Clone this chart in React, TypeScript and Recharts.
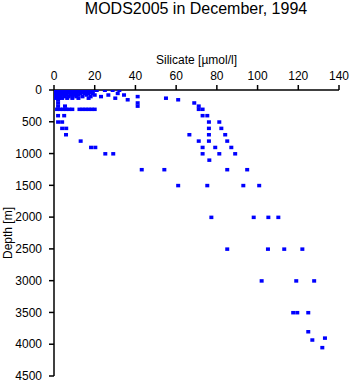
import React from "react";
import { ScatterChart, Scatter, XAxis, YAxis, Label } from "recharts";

const title = "MODS2005 in December, 1994";
const xLabel = "Silicate [µmol/l]";
const yLabel = "Depth [m]";

const xTicks = [0, 20, 40, 60, 80, 100, 120, 140];
const yTicks = [0, 500, 1000, 1500, 2000, 2500, 3000, 3500, 4000, 4500];

// depth levels [m]
const depthLevels = [
  0, 10, 20, 30, 50, 75, 100, 125, 150, 200, 250, 300, 400, 500, 600, 700, 800,
  900, 1000, 1100, 1250, 1500, 2000, 2500, 3000, 3500, 3800, 3900, 3930, 4050,
];

// silicate values observed at each depth level [µmol/l]
const silicateAtLevel: number[][] = [
  [0.5, 1, 1.5, 2, 2.5, 3, 3.5, 4, 4.5, 5, 5.5, 6, 7, 8, 9, 10, 11, 12, 13, 14, 15, 16, 17, 18, 19, 21, 25, 28.8, 32.1],
  [0.5, 1.5, 2.5, 3.5, 4.5, 5.5, 6.5, 7.5, 8.5, 9.5, 10.5, 11.5, 12.5, 14, 16, 18],
  [1, 2, 3, 4, 5, 6, 7, 8, 9, 10, 11, 12, 13, 15, 17, 19],
  [0.5, 2, 3, 4.5, 6, 7, 8.5, 10, 11, 13, 14, 16, 18],
  [1, 2, 3, 5, 6, 8, 9, 11, 13, 15, 17, 19, 31.3],
  [1, 2.5, 4, 6, 8, 10, 12, 16, 20, 26.7, 34.4],
  [0.5, 1.5, 3, 5, 7, 9, 11, 14, 18, 23.1, 41.1],
  [1, 2.5, 4, 6.5, 9, 12, 17, 30.1, 55],
  [2, 36.2, 61],
  [2, 41.1, 68.9],
  [2, 5.4, 41.1, 71.1],
  [1.5, 3, 4.5, 6, 7.5, 9, 12.5, 14, 15.5, 17, 18.5, 20, 71.1, 73],
  [2, 5, 73, 75.3],
  [2, 4, 76.1, 81.2],
  [4, 6, 76.1, 82.2],
  [5.9, 66.5, 76.1, 84.1],
  [13.1, 71.1, 76.1, 85.1],
  [18.2, 20.3, 73, 79.2, 87.1],
  [25.2, 29.1, 73, 81.2, 89],
  [76.3],
  [43.1, 54.2, 85.1, 94.9],
  [61, 75.3, 93, 100.8],
  [77.3, 98.1, 105.3, 110.2],
  [85.1, 105.1, 113.1, 122],
  [102, 119, 127.8],
  [117.5, 119.5, 124.9],
  [124.9],
  [133.1],
  [126.9],
  [131.8],
];

const data = depthLevels.flatMap((d, i) =>
  silicateAtLevel[i].map((s) => ({ silicate: s, depth: d }))
);

const FONT = "'Liberation Sans', Arial, sans-serif";

const Marker = (props: any) => {
  const { cx, cy } = props;
  if (cx == null || cy == null) return null;
  return <rect x={cx - 2} y={cy - 1.5} width={4} height={3.5} fill="#0000ff" />;
};

export default function App() {
  return (
    <div style={{ position: "absolute", left: 0, top: 0, width: 351, height: 384, background: "#fff" }}>
      <div
        style={{
          position: "absolute",
          left: 0,
          width: 392,
          top: 0,
          textAlign: "center",
          fontFamily: FONT,
          fontSize: 16,
          lineHeight: "18px",
          color: "#000",
        }}
      >
        {title}
      </div>
      <ScatterChart
        width={351}
        height={384}
        margin={{ top: 50, right: 12, bottom: 8, left: 0 }}
      >
        <XAxis
          type="number"
          dataKey="silicate"
          orientation="top"
          domain={[0, 140]}
          ticks={xTicks}
          height={40}
          tickSize={5}
          tickMargin={5}
          interval={0}
          stroke="#000"
          strokeWidth={1.5}
          tick={{ fill: "#000", fontSize: 12, fontFamily: FONT }}
          allowDataOverflow
        >
          <Label
            value={xLabel}
            position="insideTop"
            offset={5}
            style={{ fill: "#000", fontSize: 12, fontFamily: FONT }}
          />
        </XAxis>
        <YAxis
          type="number"
          dataKey="depth"
          reversed
          domain={[0, 4500]}
          ticks={yTicks}
          width={54}
          tickSize={5}
          tickMargin={7}
          interval={0}
          stroke="#000"
          strokeWidth={1.5}
          tick={{ fill: "#000", fontSize: 12, fontFamily: FONT }}
          allowDataOverflow
        >
          <Label
            content={(p: any) => {
              const vb = p.viewBox || {};
              const cy = (vb.y || 0) + (vb.height || 0) / 2;
              return (
                <text
                  x={11.5}
                  y={cy}
                  transform={`rotate(-90, 11.5, ${cy})`}
                  textAnchor="middle"
                  fill="#000"
                  fontSize={12}
                  fontFamily={FONT}
                >
                  {yLabel}
                </text>
              );
            }}
          />
        </YAxis>
        <Scatter data={data} shape={<Marker />} isAnimationActive={false} />
      </ScatterChart>
    </div>
  );
}
